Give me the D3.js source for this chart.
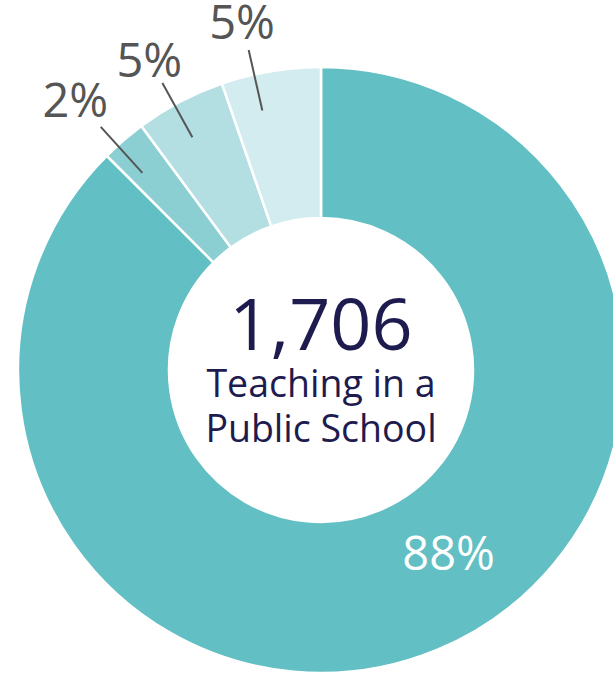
<!DOCTYPE html>
<html>
<head>
<meta charset="utf-8">
<script src="https://cdn.jsdelivr.net/npm/d3@7"></script>
<style>
  html, body { margin: 0; padding: 0; background: #fff; }
  svg { display: block; font-family: 'Open Sans', sans-serif; }
</style>
</head>
<body>
<svg id="chart" width="613" height="674"></svg>
<script>
// slices clockwise from 12 o'clock
const categories = ['public', 'other1', 'other2', 'other3'];
const values = [87.5, 2.4, 4.8, 5.3];
const colors = ['#62bfc3', '#8bcfd3', '#b3dfe2', '#d3ecef'];
const totalLabel = '1,706';
const centerLines = ['Teaching in a', 'Public School'];

const W = 613, H = 674;
const cx = 321, cy = 370;
const rOut = 303, rIn = 152;

const svg = d3.select('#chart');
const g = svg.append('g').attr('transform', `translate(${cx},${cy})`);

const pie = d3.pie().sort(null).value((d) => d.v);
const arcs = pie(categories.map((c, i) => ({ c, v: values[i], i })));
const arc = d3.arc().innerRadius(rIn).outerRadius(rOut);

g.selectAll('path.slice').data(arcs).join('path')
  .attr('class', 'slice')
  .attr('d', arc)
  .attr('fill', (d) => colors[d.index])
  .attr('stroke', '#fff')
  .attr('stroke-width', 2.5);

const pct = (d) => `${Math.round(d.data.v)}%`;
const rad = Math.PI / 180;
// leader angles sit a little counter-clockwise of the slice middle, like the original
const nudge = [0, -1.5, -1.2, -3.2];
const labR = [0, 366, 355, 358];
const mid = (d) => (d.startAngle + d.endAngle) / 2 + nudge[d.index] * rad;
const pt = (a, r) => [Math.sin(a) * r, -Math.cos(a) * r];

// small slices: leader lines + outside labels
const small = arcs.filter((d) => d.index > 0);
g.selectAll('line.lead').data(small).join('line')
  .attr('class', 'lead')
  .attr('x1', (d) => pt(mid(d), 266)[0]).attr('y1', (d) => pt(mid(d), 266)[1])
  .attr('x2', (d) => pt(mid(d), 328)[0]).attr('y2', (d) => pt(mid(d), 328)[1])
  .attr('stroke', '#555').attr('stroke-width', 2);
g.selectAll('text.out').data(small).join('text')
  .attr('class', 'out')
  .attr('x', (d) => pt(mid(d), labR[d.index])[0]).attr('y', (d) => pt(mid(d), labR[d.index])[1])
  .attr('text-anchor', 'middle').attr('dominant-baseline', 'central')
  .attr('font-size', 47).attr('fill', '#555')
  .text(pct);

// big slice label inside the ring
const big = arcs[0];
const bigA = big.startAngle + (big.endAngle - big.startAngle) * 0.46;
g.append('text')
  .attr('x', pt(bigA, 222)[0]).attr('y', pt(bigA, 222)[1])
  .attr('text-anchor', 'middle').attr('dominant-baseline', 'central')
  .attr('font-size', 47).attr('fill', '#fff')
  .text(pct(big));

// center text
g.append('text').attr('x', 0).attr('y', -20)
  .attr('text-anchor', 'middle').attr('font-size', 72).attr('fill', '#1e1b4f')
  .text(totalLabel);
centerLines.forEach((t, i) => {
  g.append('text').attr('x', 0).attr('y', 27 + i * 45)
    .attr('text-anchor', 'middle').attr('font-size', 37.5).attr('fill', '#1e1b4f')
    .text(t);
});
</script>
</body>
</html>
